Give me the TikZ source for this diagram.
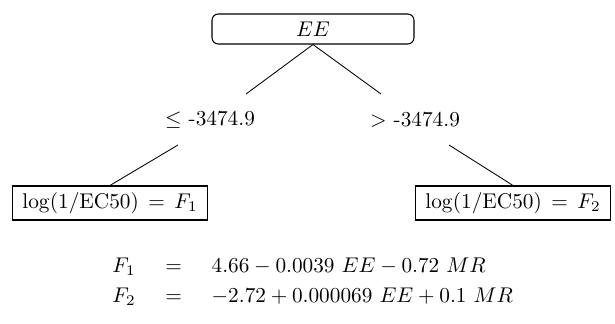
\documentclass[tikz,border=0pt]{standalone}
\usepackage{amsmath}
\begin{document}
\begin{tikzpicture}[x=0.47pt,y=-0.47pt,
  rootbox/.style={draw,rounded corners=3pt,line width=0.5pt,minimum width=202*0.47pt,minimum height=30*0.47pt,inner sep=0pt},
  leafbox/.style={draw,line width=0.5pt,inner xsep=4.6pt,inner ysep=3pt},
  lbl/.style={inner sep=0pt},
  edge/.style={line width=0.4pt}]
\useasboundingbox (0,0) rectangle (615,324);
\node[rootbox] (root) at (313,29) {$EE$};
\node[lbl] (l) at (210,120) {$\leq$ -3474.9};
\node[lbl] (r) at (415,120) {$>$ -3474.9};
\node[leafbox] (lf) at (110,203) {$\log(1/\mathrm{EC50}) \,=\, F_1$};
\node[leafbox] (rf) at (513,203) {$\log(1/\mathrm{EC50}) \,=\, F_2$};
\coordinate (la) at (246,94);
\coordinate (ra) at (381,94);
\coordinate (lb) at (178,145);
\coordinate (rb) at (449,145);
\draw[edge] (root.south) -- (la);
\draw[edge] (root.south) -- (ra);
\draw[edge] (lb) -- (lf.north);
\draw[edge] (rb) -- (rf.north);
\node[lbl,anchor=west] (eq) at (97,282) {\setlength{\arraycolsep}{7pt}$\begin{array}{rcl}
F_1 & = & 4.66 - 0.0039\ EE - 0.72\ MR\\[2pt]
F_2 & = & -2.72 + 0.000069\ EE + 0.1\ MR
\end{array}$};
\end{tikzpicture}
\end{document}
